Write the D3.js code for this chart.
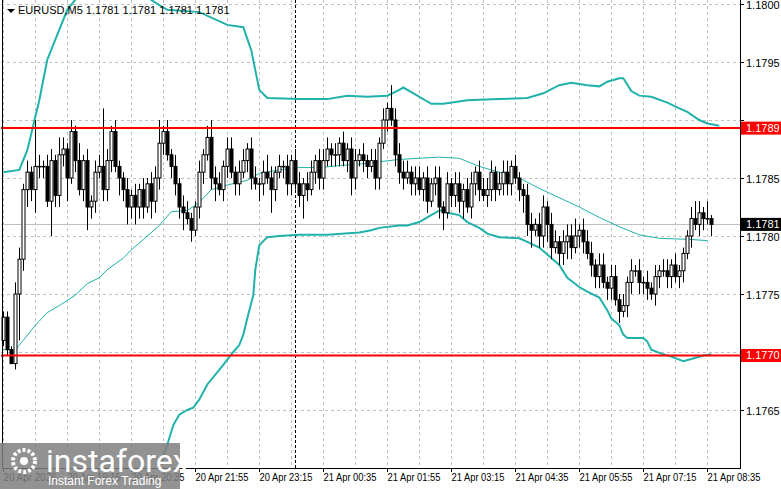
<!DOCTYPE html>
<html>
<head>
<meta charset="utf-8">
<script src="https://cdn.jsdelivr.net/npm/d3@7"></script>
<style>
  body { margin: 0; background: #fff; }
  svg { display: block; font-family: "Liberation Sans", Arial, sans-serif; }
</style>
</head>
<body>
<div id="chart"></div>
<script>
// EURUSD M5, prices given in pips above BASE_PRICE
var BASE_PRICE = 1.1700;
var FIRST_OPEN_PIPS = 71.0;
var CLOSE_PIPS = [
  73.0,70.2,69.0,75.0,78.0,84.0,85.5,84.0,86.0,86.0,
  86.0,83.0,86.5,83.5,87.0,87.5,85.0,89.0,86.5,84.0,
  86.5,82.5,83.0,85.5,86.0,84.0,86.5,89.0,86.0,85.0,
  84.0,82.5,83.5,82.5,84.0,82.5,84.5,83.0,85.0,88.0,
  89.0,87.0,86.0,84.5,82.5,82.0,81.5,80.5,82.5,85.5,
  87.0,88.5,85.0,84.5,84.0,86.0,87.5,85.5,84.5,85.5,
  86.5,87.5,85.0,84.5,84.5,85.5,85.0,84.0,85.5,86.0,
  86.0,84.5,86.5,84.5,83.5,84.5,84.0,85.5,86.5,85.0,
  86.5,87.5,87.0,87.0,88.0,86.5,87.5,85.0,86.5,87.0,
  86.5,86.0,86.5,85.0,88.0,90.0,91.0,90.0,87.0,85.5,
  85.0,85.5,84.5,85.0,84.0,85.0,83.0,84.5,85.0,82.5,
  82.0,84.5,83.5,84.5,83.0,84.0,82.5,84.5,85.5,84.0,
  83.5,84.0,85.5,84.0,84.5,85.5,84.5,86.0,85.0,84.0,
  83.5,81.0,80.5,81.0,80.0,82.5,81.0,79.0,79.5,78.5,
  79.5,80.0,79.0,80.0,80.5,79.5,78.5,77.5,76.5,77.5,
  76.0,75.5,76.5,74.5,73.5,74.0,76.0,77.0,77.0,76.0,
  76.0,75.5,75.0,76.5,77.0,77.0,76.5,77.5,76.5,77.0,
  78.5,80.0,81.5,81.0,82.0,81.5,81.5,81.0
];
var UP_WICK_PIPS = [
  0.5,0.5,0.3,1.0,1.0,0.5,1.0,0.5,4.0,1.0,
  0.5,1.0,1.0,0.5,1.5,1.0,0.5,1.0,0.5,1.5,
  0.5,1.0,0.5,1.0,1.0,5.0,1.0,0.5,1.0,0.5,
  0.5,1.0,0.5,1.0,0.5,1.0,0.5,1.0,1.0,2.0,
  0.5,1.0,0.5,1.0,0.5,1.0,1.0,0.5,0.5,1.0,
  0.5,1.0,1.5,1.0,1.0,0.5,1.0,1.0,0.5,1.0,
  1.0,0.5,1.0,1.0,0.5,1.0,1.5,1.0,0.5,1.0,
  0.5,1.0,0.5,1.0,1.0,0.5,1.0,1.0,0.5,1.0,
  1.0,1.0,0.5,1.0,0.5,1.0,0.5,1.0,1.0,0.5,
  1.0,0.5,1.0,1.0,0.5,1.0,0.5,2.0,1.0,1.0,
  1.0,1.0,0.5,1.0,1.0,0.5,1.0,0.5,1.0,1.0,
  0.5,1.0,0.5,1.0,1.0,0.5,1.0,1.0,0.5,1.0,
  1.0,1.0,1.0,0.5,1.0,1.0,1.0,0.5,1.0,0.5,
  0.5,1.0,1.0,0.5,1.0,1.0,0.5,1.0,1.0,0.5,
  1.0,1.0,1.0,1.5,0.5,1.0,1.0,1.0,0.5,1.0,
  1.0,0.5,1.0,1.0,0.5,1.0,0.5,1.0,0.5,1.0,
  0.5,1.0,0.5,1.0,0.5,1.0,1.0,0.5,1.0,0.5,
  0.5,0.5,1.0,1.5,1.0,0.5,1.5,0.3
];
var DOWN_WICK_PIPS = [
  0.5,0.5,0.0,0.5,4.0,1.0,1.5,1.0,2.0,1.0,
  1.0,0.5,3.0,1.0,1.0,1.0,2.0,0.5,1.0,0.5,
  1.0,2.0,1.0,1.0,0.5,1.0,1.0,1.0,0.5,1.5,
  1.0,1.5,1.0,1.5,1.0,1.0,0.5,1.5,1.0,1.0,
  1.0,0.5,1.0,1.0,1.0,1.5,0.5,1.0,0.5,1.0,
  1.0,0.5,1.0,1.5,0.5,1.0,1.0,0.5,1.0,1.0,
  0.5,1.0,1.0,0.5,1.5,1.0,0.5,2.0,1.0,0.5,
  1.0,1.0,1.0,0.5,1.0,2.0,1.0,0.5,1.0,1.0,
  1.0,0.5,1.0,1.0,1.0,0.5,1.0,1.5,1.0,0.5,
  1.0,1.0,0.5,1.0,1.0,0.5,1.0,0.5,1.0,1.0,
  1.0,0.5,1.0,1.0,0.5,1.0,1.0,0.5,1.0,1.0,
  1.5,0.5,1.0,1.0,1.0,1.5,0.5,1.0,1.0,1.0,
  0.5,1.0,1.0,1.0,0.5,1.0,1.0,1.0,0.5,1.0,
  1.5,1.0,1.5,0.5,1.0,1.0,1.5,1.0,0.5,1.0,
  1.0,1.5,1.0,0.5,1.0,1.0,0.5,1.0,1.0,1.0,
  0.5,1.0,1.0,0.5,1.0,0.5,1.0,1.0,0.5,1.0,
  1.0,1.0,0.5,1.0,1.0,0.5,1.0,1.0,0.5,1.0,
  1.0,0.5,1.0,0.5,1.0,1.0,0.5,1.0
];

// Bollinger bands, [bar index, price]
var BB_UPPER = [[0,1.17855],[4,1.17857],[6,1.17874],[9,1.17917],[11,1.17952],[14,1.17978],[16,1.17995],[19,1.18008],[25,1.18016],[35,1.18008],[39,1.17999],[41,1.17995],[49,1.17993],[56,1.17982],[60,1.17980],[62,1.17960],[64,1.17926],[66,1.17919],[74,1.17918],[81,1.17918],[86,1.17921],[91,1.17920],[96,1.17921],[99,1.17926],[100,1.17928],[102,1.17924],[107,1.17914],[110,1.17914],[116,1.17917],[124,1.17918],[131,1.17919],[135,1.17923],[139,1.17930],[142,1.17932],[146,1.17930],[149,1.17929],[151,1.17933],[154,1.17936],[155,1.17936],[157,1.17925],[159,1.17921],[162,1.17920],[166,1.17915],[169,1.17910],[171,1.17907],[174,1.17900],[176,1.17897],[179,1.17895]];
var BB_MIDDLE = [[0,1.17702],[3,1.17702],[5,1.17710],[8,1.17723],[11,1.17734],[14,1.17740],[18,1.17749],[21,1.17759],[24,1.17764],[26,1.17771],[30,1.17781],[32,1.17788],[35,1.17797],[39,1.17809],[42,1.17821],[46,1.17822],[49,1.17829],[52,1.17840],[56,1.17844],[61,1.17848],[64,1.17854],[69,1.17857],[74,1.17859],[79,1.17859],[85,1.17861],[89,1.17862],[94,1.17864],[99,1.17866],[104,1.17867],[109,1.17868],[114,1.17867],[119,1.17860],[124,1.17855],[129,1.17850],[134,1.17841],[139,1.17833],[144,1.17825],[149,1.17816],[154,1.17808],[159,1.17801],[164,1.17798],[172,1.17797],[176,1.17796]];
var BB_LOWER = [[38,1.17585],[39,1.17600],[41,1.17620],[42.5,1.17637],[44,1.17646],[46,1.17650],[47.5,1.17652],[49,1.17659],[51,1.17672],[55,1.17689],[57.5,1.17700],[59,1.17706],[60,1.17715],[61,1.17729],[62.5,1.17749],[63,1.17771],[64,1.17792],[66,1.17799],[69,1.17800],[74,1.17801],[81,1.17801],[89,1.17803],[92,1.17805],[94,1.17807],[99,1.17809],[101,1.17809],[104,1.17812],[106,1.17816],[109,1.17822],[110,1.17822],[111,1.17820],[114,1.17818],[116,1.17812],[119,1.17807],[121,1.17802],[124,1.17799],[129,1.17798],[131,1.17795],[134,1.17790],[136,1.17784],[139,1.17775],[141,1.17764],[144,1.17756],[146,1.17752],[149,1.17747],[151,1.17736],[152,1.17729],[154,1.17723],[155,1.17715],[156,1.17712],[160,1.17712],[161,1.17709],[162,1.17702],[165,1.17698],[167,1.17696],[170,1.17692],[172,1.17694],[175,1.17697],[177,1.17698]];

var PRICE_TICKS = [1.1765, 1.1770, 1.1775, 1.1780, 1.1785, 1.1790, 1.1795, 1.1800];
var TIME_LABELS = [
  [0,"20 Apr 2026"],[16,"20 Apr 19:15"],[32,"20 Apr 20:35"],[48,"20 Apr 21:55"],
  [64,"20 Apr 23:15"],[80,"21 Apr 00:35"],[96,"21 Apr 01:55"],[112,"21 Apr 03:15"],
  [128,"21 Apr 04:35"],[144,"21 Apr 05:55"],[160,"21 Apr 07:15"],[176,"21 Apr 08:35"]
];
var LEVELS = [{price: 1.17893, label: "1.1789"}, {price: 1.17697, label: "1.1770"}];
var CURRENT_PRICE = 1.1781;
var CURSOR_BAR = 73;
var TITLE = "EURUSD,M5  1.1781 1.1781 1.1781 1.1781";

var W = 781, H = 489;
var plotRight = 740, plotBottom = 468;
var BAND_COLOR = "#20b2aa";

var bars = CLOSE_PIPS.map((c, i) => {
    let o = i === 0 ? FIRST_OPEN_PIPS : CLOSE_PIPS[i - 1];
    return {
        i: i,
        open: BASE_PRICE + o / 10000,
        close: BASE_PRICE + c / 10000,
        high: BASE_PRICE + (Math.max(o, c) + UP_WICK_PIPS[i]) / 10000,
        low: BASE_PRICE + (Math.min(o, c) - DOWN_WICK_PIPS[i]) / 10000
    };
});

let svg = d3.select("#chart").append("svg")
    .attr("width", W).attr("height", H);

let xScale = d3.scaleLinear().domain([0, 177]).range([3.3, 711.3]);
let yScale = d3.scaleLinear().domain([1.1760, 1.1800]).range([plotBottom, 4]);

let plot = svg.append("g");
svg.append("clipPath").attr("id", "clip")
    .append("rect").attr("x", 1).attr("y", 0).attr("width", plotRight - 1).attr("height", plotBottom);

// Grid
let gx = d3.range(0, 181, 8);
plot.selectAll(".vgrid").data(gx).enter().append("line")
    .attr("x1", d => Math.round(xScale(d)) + 0.5).attr("x2", d => Math.round(xScale(d)) + 0.5)
    .attr("y1", 0).attr("y2", plotBottom)
    .attr("stroke", "#c0c0c0").attr("stroke-dasharray", "3,3");
plot.selectAll(".hgrid").data(PRICE_TICKS).enter().append("line")
    .attr("x1", 1).attr("x2", plotRight)
    .attr("y1", d => Math.round(yScale(d)) + 0.5).attr("y2", d => Math.round(yScale(d)) + 0.5)
    .attr("stroke", "#c0c0c0").attr("stroke-dasharray", "3,3");

// Current price line
plot.append("line")
    .attr("x1", 1).attr("x2", plotRight)
    .attr("y1", Math.round(yScale(CURRENT_PRICE)) + 0.5).attr("y2", Math.round(yScale(CURRENT_PRICE)) + 0.5)
    .attr("stroke", "#c0c0c0");

// Cursor line
plot.append("line")
    .attr("x1", Math.round(xScale(CURSOR_BAR)) + 0.5).attr("x2", Math.round(xScale(CURSOR_BAR)) + 0.5)
    .attr("y1", 0).attr("y2", plotBottom)
    .attr("stroke", "#000").attr("stroke-dasharray", "3,2");

let g = plot.append("g").attr("clip-path", "url(#clip)");

// Bands
const bandLine = d3.line().x(d => xScale(d[0])).y(d => yScale(d[1]));
g.append("path").datum(BB_UPPER).attr("d", bandLine).attr("fill", "none").attr("stroke", BAND_COLOR).attr("stroke-width", 2);
g.append("path").datum(BB_LOWER).attr("d", bandLine).attr("fill", "none").attr("stroke", BAND_COLOR).attr("stroke-width", 2);
g.append("path").datum(BB_MIDDLE).attr("d", bandLine).attr("fill", "none").attr("stroke", BAND_COLOR).attr("stroke-width", 1);

// Candles
bars.forEach((b) => {
    let cx = Math.round(xScale(b.i)) + 0.5;
    g.append("line")
        .attr("x1", cx).attr("x2", cx)
        .attr("y1", yScale(b.high)).attr("y2", yScale(b.low))
        .attr("stroke", "#000");
    let top = yScale(Math.max(b.open, b.close));
    let bot = yScale(Math.min(b.open, b.close));
    g.append("rect")
        .attr("x", cx - 1.5).attr("y", top)
        .attr("width", 3).attr("height", Math.max(bot - top, 0.5))
        .attr("fill", b.close >= b.open ? "#fff" : "#000")
        .attr("stroke", "#000").attr("stroke-width", 1);
});

// Support/resistance levels
LEVELS.forEach((lv) => {
    let y = yScale(lv.price);
    g.append("line").attr("x1", 1).attr("x2", plotRight).attr("y1", y).attr("y2", y)
        .attr("stroke", "#ff0000").attr("stroke-width", 2);
});

// Frame
svg.append("line").attr("x1", 2.5).attr("x2", 2.5).attr("y1", 0).attr("y2", plotBottom).attr("stroke", "#000");
svg.append("line").attr("x1", plotRight + 0.5).attr("x2", plotRight + 0.5).attr("y1", 0).attr("y2", plotBottom + 1).attr("stroke", "#000");
svg.append("line").attr("x1", 2).attr("x2", plotRight + 1).attr("y1", plotBottom + 0.5).attr("y2", plotBottom + 0.5).attr("stroke", "#000");

// Price axis (tick labels hidden behind the level boxes are skipped)
let yAxis = svg.append("g");
let boxPrices = LEVELS.map(l => l.price).concat([CURRENT_PRICE]);
PRICE_TICKS.forEach((p) => {
    let y = Math.round(yScale(p)) + 0.5;
    yAxis.append("line").attr("x1", plotRight).attr("x2", plotRight + 4).attr("y1", y).attr("y2", y).attr("stroke", "#000");
    let hidden = boxPrices.some(bp => Math.abs(yScale(bp) - y) < 10);
    if (!hidden) {
        yAxis.append("text").attr("x", 746).attr("y", y + 4)
            .attr("font-size", 11).attr("fill", "#000").text(p.toFixed(4));
    }
});
LEVELS.forEach((lv) => {
    let y = yScale(lv.price);
    yAxis.append("rect").attr("x", plotRight + 1).attr("y", y - 6.5).attr("width", 40).attr("height", 13).attr("fill", "#ff0000");
    yAxis.append("text").attr("x", 746).attr("y", y + 4).attr("font-size", 11).attr("fill", "#fff").text(lv.label);
});
let cy = yScale(CURRENT_PRICE);
yAxis.append("rect").attr("x", plotRight + 1).attr("y", cy - 6.5).attr("width", 40).attr("height", 13).attr("fill", "#000");
yAxis.append("text").attr("x", 746).attr("y", cy + 4).attr("font-size", 11).attr("fill", "#fff").text(CURRENT_PRICE.toFixed(4));

// Time axis
let xAxis = svg.append("g");
TIME_LABELS.forEach((t) => {
    let x = Math.round(xScale(t[0])) + 0.5;
    xAxis.append("line").attr("x1", x).attr("x2", x).attr("y1", plotBottom).attr("y2", plotBottom + 4).attr("stroke", "#000");
    xAxis.append("text").attr("x", x).attr("y", 481)
        .attr("font-size", 10).attr("textLength", 53).attr("lengthAdjust", "spacingAndGlyphs")
        .attr("fill", "#000").text(t[1]);
});

// Title
svg.append("path").attr("d", "M7,9 L15,9 L11,13 Z").attr("fill", "#000");
svg.append("text").attr("x", 18).attr("y", 14).attr("font-size", 11).attr("fill", "#000").text(TITLE);

// Watermark
let wm = svg.append("g");
wm.append("rect").attr("x", 0).attr("y", 443).attr("width", 180).attr("height", 46).attr("fill", "#7f7f7f").attr("opacity", 0.85);
wm.append("circle").attr("cx", 24).attr("cy", 461).attr("r", 11).attr("fill", "none").attr("stroke", "#fff").attr("stroke-width", 4).attr("stroke-dasharray", "3,2");
wm.append("circle").attr("cx", 24).attr("cy", 461).attr("r", 4).attr("fill", "#fff");
wm.append("text").attr("x", 46).attr("y", 472).attr("font-size", 32).attr("fill", "#fff").attr("font-family", "Roboto, sans-serif").text("instaforex");
wm.append("text").attr("x", 48).attr("y", 485).attr("font-size", 12).attr("fill", "#fff").text("Instant Forex Trading");
</script>
</body>
</html>
